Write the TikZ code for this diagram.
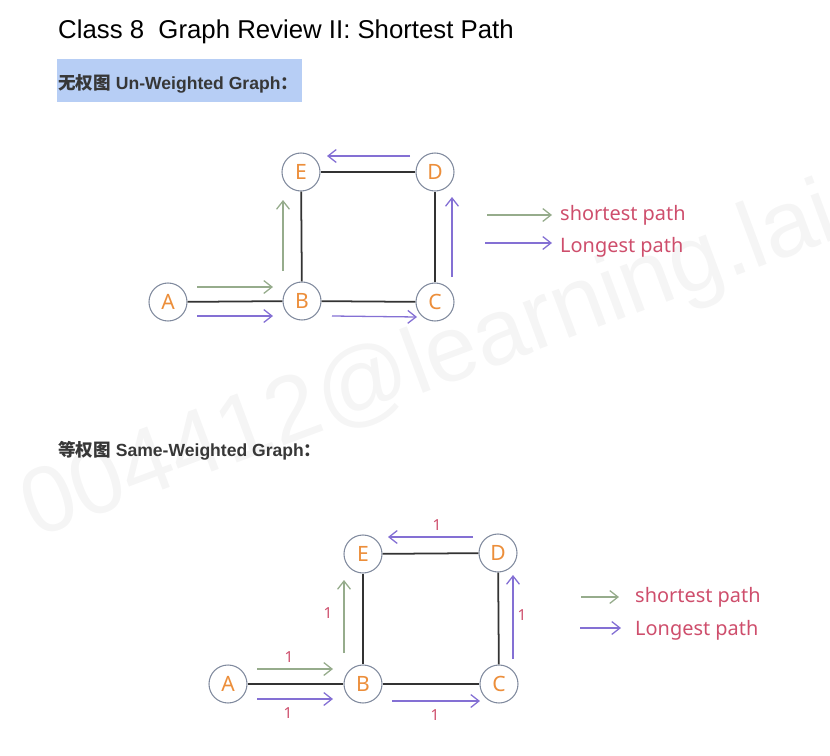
\documentclass[tikz,border=0pt]{standalone}
\usepackage{fontspec}
\setmainfont{Liberation Sans}
\newfontfamily\cjk{Noto Sans CJK SC}
\newfontfamily\hand{Noto Sans}
\usetikzlibrary{arrows.meta}

\definecolor{pathgreen}{RGB}{150,172,140}
\definecolor{pathpurple}{RGB}{132,112,212}
\definecolor{letterorange}{RGB}{236,142,58}
\definecolor{notepink}{RGB}{206,78,108}
\definecolor{ringgray}{RGB}{128,138,158}
\definecolor{markblue}{RGB}{183,206,245}
\definecolor{headgray}{RGB}{55,55,55}

\tikzset{
  vtx/.style={circle, draw=ringgray, fill=white, line width=0.9pt, minimum size=1.14cm, inner sep=0pt,
    text=letterorange, font=\hand\fontsize{18}{18}\selectfont},
  edge/.style={line width=1.5pt, black!80},
  short/.style={->, pathgreen, line width=1.1pt},
  long/.style={->, pathpurple, line width=1.1pt},
  wt/.style={text=notepink, inner sep=0pt, font=\hand\bfseries\fontsize{13}{13}\selectfont},
  note/.style={text=notepink, anchor=west, inner sep=0pt, font=\hand\fontsize{17}{17}\selectfont},
  head/.style={anchor=base west, inner sep=0pt, text=headgray, font=\bfseries\fontsize{15}{15}\selectfont},
}

\begin{document}
\begin{tikzpicture}[x=0.03cm, y=-0.03cm, >={Straight Barb[length=7pt,width=11pt]}]
	\useasboundingbox (0,0) rectangle (830,756);
	
	% Watermark
	\begin{scope}
		\clip (0,0) rectangle (830,756);
		\node[rotate=20.5, text=black!4, font=\fontsize{80}{80}\selectfont] (mark) at (430,365) {004412@learning.lai};
	\end{scope}
	
	% Headings
	\node[anchor=base west, inner sep=0pt, font=\fontsize{22}{22}\selectfont] (title) at (58,38) {Class 8\ \ Graph Review II: Shortest Path};
	\fill[markblue] (57,59) rectangle (302,102);
	\node[head] (head1) at (58,89) {{\cjk 无权图} Un-Weighted Graph{\cjk ：}};
	\node[head] (head2) at (58,456) {{\cjk 等权图} Same-Weighted Graph{\cjk ：}};
	
	% Un-weighted graph
	\node[vtx] (A1) at (168,302) {A};
	\node[vtx] (B1) at (302,301) {B};
	\node[vtx] (C1) at (435,302) {C};
	\node[vtx] (D1) at (435,172) {D};
	\node[vtx] (E1) at (301,172) {E};
	\draw[edge] (A1) -- (B1);
	\draw[edge] (B1) -- (C1);
	\draw[edge] (C1) -- (D1);
	\draw[edge] (D1) -- (E1);
	\draw[edge] (B1) -- (E1);
	
	% Paths, graph 1
	\draw[short] ([shift={(29,-15)}]A1.center) -- ([shift={(-29,-14)}]B1.center);
	\draw[short] ([shift={(-19,-30)}]B1.center) -- ([shift={(-18,28)}]E1.center);
	\draw[long] ([shift={(29,14)}]A1.center) -- ([shift={(-29,15)}]B1.center);
	\draw[long] ([shift={(30,15)}]B1.center) -- ([shift={(-18,15)}]C1.center);
	\draw[long] ([shift={(17,-25)}]C1.center) -- ([shift={(17,25)}]D1.center);
	\draw[long] ([shift={(-25,-16)}]D1.center) -- ([shift={(26,-16)}]E1.center);
	
	% Legend, graph 1
	\node[note] (short1) at (560,215) {shortest path};
	\node[note] (long1) at (560,247) {Longest path};
	\coordinate (s1) at (487,215);
	\coordinate (l1) at (485,243);
	\draw[short] (s1) -- ([xshift=-8*0.03cm]s1 -| short1.west);
	\draw[long] (l1) -- ([xshift=-8*0.03cm]l1 -| long1.west);
	
	% Same-weighted graph
	\begin{scope}[every node/.append style={minimum size=1.2cm}]
		\node[vtx] (A2) at (228,684) {A};
		\node[vtx] (B2) at (363,684) {B};
		\node[vtx] (C2) at (499,684) {C};
		\node[vtx] (D2) at (498,553) {D};
		\node[vtx] (E2) at (363,554) {E};
	\end{scope}
	\draw[edge] (A2) -- (B2);
	\draw[edge] (B2) -- (C2);
	\draw[edge] (C2) -- (D2);
	\draw[edge] (D2) -- (E2);
	\draw[edge] (B2) -- (E2);
	
	% Paths, graph 2
	\draw[short] ([shift={(29,-15)}]A2.center) -- ([shift={(-30,-15)}]B2.center);
	\draw[short] ([shift={(-19,-31)}]B2.center) -- ([shift={(-19,26)}]E2.center);
	\draw[long] ([shift={(29,15)}]A2.center) -- ([shift={(-30,15)}]B2.center);
	\draw[long] ([shift={(29,17)}]B2.center) -- ([shift={(-19,17)}]C2.center);
	\draw[long] ([shift={(14,-25)}]C2.center) -- ([shift={(15,22)}]D2.center);
	\draw[long] ([shift={(-25,-16)}]D2.center) -- ([shift={(25,-17)}]E2.center);
	
	% Weights
	\foreach \i/\x/\y in {1/289/657, 2/288/713, 3/328/613, 4/435/715, 5/522/615, 6/437/525}
		\node[wt] (w\i) at (\x,\y) {1};
	
	% Legend, graph 2
	\node[note] (short2) at (635,597) {shortest path};
	\node[note] (long2) at (635,630) {Longest path};
	\coordinate (s2) at (581,597);
	\coordinate (l2) at (580,628);
	\draw[short] (s2) -- ([xshift=-16*0.03cm]s2 -| short2.west);
	\draw[long] (l2) -- ([xshift=-14*0.03cm]l2 -| long2.west);
	
\end{tikzpicture}
\end{document}
